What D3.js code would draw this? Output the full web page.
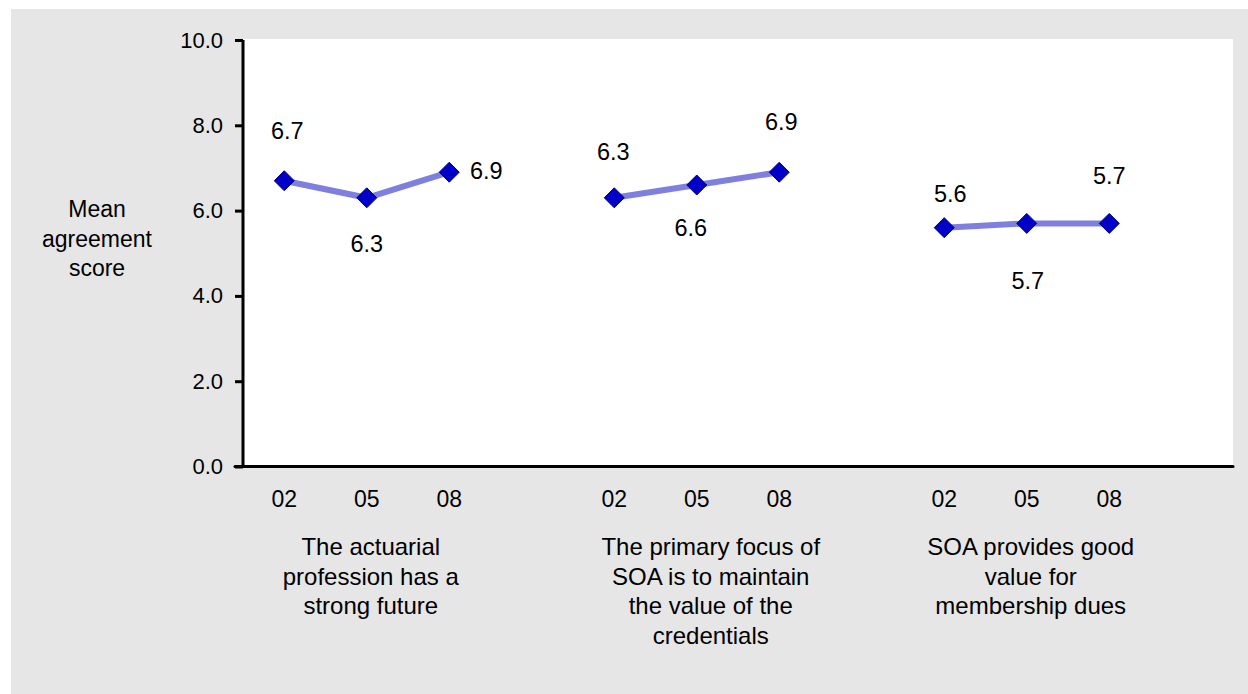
<!DOCTYPE html>
<html>
<head>
<meta charset="utf-8">
<script src="https://cdn.jsdelivr.net/npm/d3@7"></script>
<style>
  body { margin: 0; background: #fff; }
  text { font-family: "Liberation Sans", Arial, sans-serif; fill: #000; }
</style>
</head>
<body>
<div id="chart"></div>
<script>
// survey groups and the years asked
const groupLabels = [
  ["The actuarial", "profession has a", "strong future"],
  ["The primary focus of", "SOA is to maintain", "the value of the", "credentials"],
  ["SOA provides good", "value for", "membership dues"],
];
const years = ["02", "05", "08"];
const scores = [
  [6.7, 6.3, 6.9],
  [6.3, 6.6, 6.9],
  [5.6, 5.7, 5.7],
];
const yTicks = [0, 2, 4, 6, 8, 10];
const yTitle = ["Mean", "agreement", "score"];

var width = 1248, height = 694;
var plot = { left: 243, right: 1233, top: 40, bottom: 466.5 };

var svg = d3
  .select("#chart")
  .append("svg")
  .attr("width", width)
  .attr("height", height);

// grey chart area
svg
  .append("rect")
  .attr("x", 11)
  .attr("y", 9)
  .attr("width", width - 11)
  .attr("height", height - 9)
  .attr("fill", "#e6e6e6");

svg
  .append("rect")
  .attr("x", plot.left)
  .attr("y", 39)
  .attr("width", plot.right - plot.left)
  .attr("height", plot.bottom - 39)
  .attr("fill", "#fff");

// one slot per year plus an empty slot after every group
var slots = [];
scores.forEach((g, gi) => {
  years.forEach((yr) => slots.push(gi + "-" + yr));
  slots.push(gi + "-gap");
});
var x = d3.scaleBand().domain(slots).range([plot.left, plot.right]).padding(0);
var xc = (gi, yr) => x(gi + "-" + yr) + x.bandwidth() / 2;

var y = d3.scaleLinear().domain([0, 10]).range([plot.bottom, plot.top]);

// Y axis
var yAxis = svg
  .append("g")
  .attr("transform", "translate(" + plot.left + ",0)")
  .call(
    d3.axisLeft(y).tickValues(yTicks).tickSize(8).tickPadding(12).tickFormat(d3.format(".1f"))
  );
yAxis.select(".domain").attr("stroke", "#000").attr("stroke-width", 3).attr("d",
  "M0," + (plot.bottom + 1.5) + "V" + y(10));
yAxis.selectAll(".tick line").attr("stroke", "#000").attr("stroke-width", 3);
yAxis.selectAll(".tick text").style("font-size", "22px").attr("font-family", null);

// X axis line
svg
  .append("line")
  .attr("x1", plot.left - 8)
  .attr("x2", plot.right)
  .attr("y1", plot.bottom)
  .attr("y2", plot.bottom)
  .attr("stroke", "#000")
  .attr("stroke-width", 3)
  .attr("stroke-linecap", "round");

// year labels
scores.forEach((g, gi) => {
  years.forEach((yr) => {
    svg
      .append("text")
      .attr("x", xc(gi, yr))
      .attr("y", 507)
      .attr("text-anchor", "middle")
      .style("font-size", "23px")
      .text(yr);
  });
});

// group labels, centred under the middle year
var groupShift = [4, 14, 4];
groupLabels.forEach((lines, gi) => {
  var t = svg
    .append("text")
    .attr("text-anchor", "middle")
    .attr("x", xc(gi, years[1]) + groupShift[gi])
    .attr("y", 555)
    .style("font-size", "24px");
  lines.forEach((l, li) => {
    t.append("tspan")
      .attr("x", xc(gi, years[1]) + groupShift[gi])
      .attr("dy", li === 0 ? 0 : 29.5)
      .text(l);
  });
});

// y title
var yt = svg
  .append("text")
  .attr("text-anchor", "middle")
  .attr("x", 97)
  .attr("y", 217)
  .style("font-size", "23px");
yTitle.forEach((l, li) => {
  yt.append("tspan").attr("x", 97).attr("dy", li === 0 ? 0 : 29.5).text(l);
});

// lines + markers
var line = d3
  .line()
  .x((d) => d.x)
  .y((d) => y(d.v));

// label placement [dx, dy] from the point, as set by hand in the original
var labelOffsets = [
  [[3, -42], [0, 54], [37, 7]],
  [[-1, -38], [-6, 51], [2, -42]],
  [[6, -26], [1, 66], [0, -39]],
];

scores.forEach((g, gi) => {
  var pts = g.map((v, i) => ({ x: xc(gi, years[i]), v: v }));
  svg
    .append("path")
    .datum(pts)
    .attr("d", line)
    .attr("fill", "none")
    .attr("stroke", "#7f7fe0")
    .attr("stroke-width", 6);

  svg
    .selectAll(".pt" + gi)
    .data(pts)
    .enter()
    .append("path")
    .attr("d", "M0,-10L10,0L0,10L-10,0Z")
    .attr("transform", (d) => "translate(" + d.x + "," + y(d.v) + ")")
    .attr("fill", "#0000c8")
    .attr("stroke", "#000080")
    .attr("stroke-width", 1);

  svg
    .selectAll(".lbl" + gi)
    .data(pts)
    .enter()
    .append("text")
    .attr("x", (d, i) => d.x + labelOffsets[gi][i][0])
    .attr("y", (d, i) => y(d.v) + labelOffsets[gi][i][1])
    .attr("text-anchor", "middle")
    .style("font-size", "23.5px")
    .text((d) => d.v.toFixed(1));
});
</script>
</body>
</html>
